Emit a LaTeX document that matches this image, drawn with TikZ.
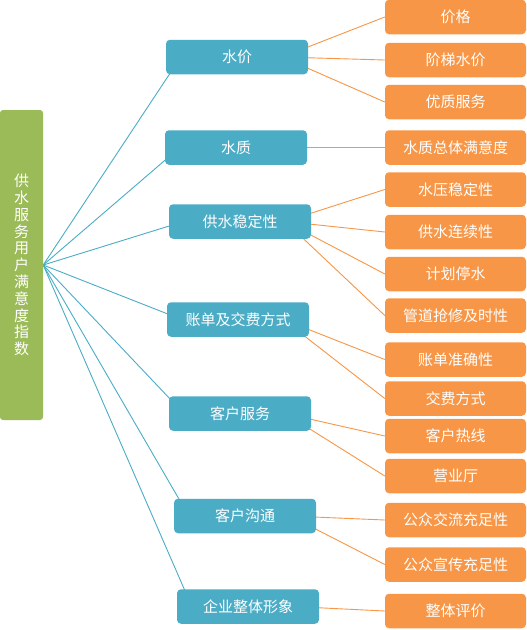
\documentclass[tikz,border=0pt]{standalone}
\usepackage{fontspec}
\setmainfont{Noto Sans CJK SC}
\usepackage{tikz}
\usetikzlibrary{backgrounds}
\definecolor{rootCol}{HTML}{9BBB59}
\definecolor{catCol}{HTML}{4BACC6}
\definecolor{itemCol}{HTML}{F79646}
\tikzset{
  rootbox/.style={fill=rootCol, rounded corners=3pt, minimum width=43pt, minimum height=310pt,
                  text=white, font=\fontsize{15}{16.8}\selectfont, align=center, inner sep=0pt},
  cat/.style={fill=catCol, rounded corners=4pt, minimum width=142pt, minimum height=34.5pt,
              text=white, font=\fontsize{15}{18}\selectfont, inner sep=0pt},
  item/.style={fill=itemCol, rounded corners=4pt, minimum width=141pt, minimum height=34.5pt,
               text=white, font=\fontsize{15}{18}\selectfont, inner sep=0pt},
  trunk/.style={catCol, line width=0.9pt},   % root -> category
  twig/.style={itemCol, line width=0.9pt},   % category -> item
}
\newcommand{\leaf}[3]{\node[item] (#1) at (455.5,#2) {#3};}

\begin{document}
\begin{tikzpicture}[x=1pt,y=-1pt]
  \useasboundingbox (0,0) rectangle (527,630);
  \node[rootbox] (root) at (21.5,265) {供\\水\\服\\务\\用\\户\\满\\意\\度\\指\\数};

  \node[cat] (price)   at (237,57)    {水价};
  \node[cat] (quality) at (236,147.5) {水质};
  \node[cat] (supply)  at (240,221.5) {供水稳定性};
  \node[cat] (bill)    at (238,319.5) {账单及交费方式};
  \node[cat] (service) at (240,413.5) {客户服务};
  \node[cat] (comm)    at (245,516)   {客户沟通};
  \node[cat] (image)   at (248,606.5) {企业整体形象};

  \leaf{p1}{17}{价格}
  \leaf{p2}{60}{阶梯水价}
  \leaf{p3}{102}{优质服务}
  \leaf{q1}{147.5}{水质总体满意度}
  \leaf{s1}{189.5}{水压稳定性}
  \leaf{s2}{232}{供水连续性}
  \leaf{s3}{274}{计划停水}
  \leaf{s4}{315.5}{管道抢修及时性}
  \leaf{b1}{359.5}{账单准确性}
  \leaf{b2}{398.5}{交费方式}
  \leaf{v1}{436}{客户热线}
  \leaf{v2}{476}{营业厅}
  \leaf{m1}{520}{公众交流充足性}
  \leaf{m2}{564.5}{公众宣传充足性}
  \leaf{g1}{611}{整体评价}

  \begin{scope}[on background layer]
    \foreach \c in {price,quality,supply,bill,service,comm,image}
      \draw[trunk] (root.east) -- ([xshift=15pt]\c.west);
    \foreach \c/\i in {price/p1,price/p2,price/p3,quality/q1,supply/s1,supply/s2,supply/s3,supply/s4,
                       bill/b1,bill/b2,service/v1,service/v2,comm/m1,comm/m2,image/g1}
      \draw[twig] ([xshift=-26pt]\c.east) -- (\i.west);
  \end{scope}
\end{tikzpicture}
\end{document}
